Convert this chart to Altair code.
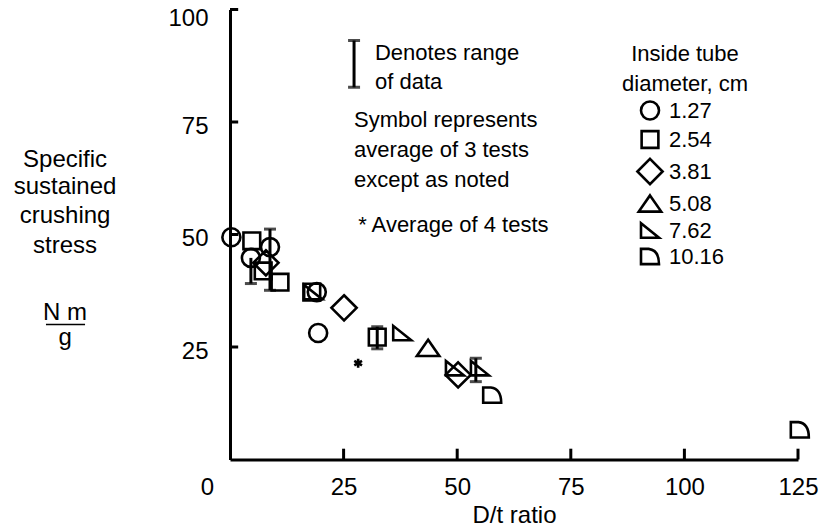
import altair as alt
import pandas as pd

FONT = "Liberation Sans"

# ---- data ----
SERIES = ["1.27", "2.54", "3.81", "5.08", "7.62", "10.16", "*"]

pt_series = ["1.27", "2.54", "1.27", "1.27", "3.81", "2.54", "2.54",
             "2.54", "1.27", "7.62", "3.81", "1.27", "2.54", "7.62",
             "*", "5.08", "7.62", "3.81", "7.62", "10.16", "10.16"]
pt_x = [0.3, 4.8, 8.8, 4.6, 7.9, 7.3, 11.0,
        18.0, 19.1, 18.3, 25.1, 19.4, 32.4, 37.9,
        28.2, 43.6, 49.5, 50.2, 55.0, 57.7, 125.4]
pt_y = [49.4, 48.6, 47.2, 44.8, 43.7, 41.9, 39.4,
        37.2, 37.2, 37.2, 33.7, 28.1, 27.2, 28.1,
        21.4, 24.8, 20.3, 18.8, 20.3, 14.3, 6.6]

# range bars (x, low, high); the last one is the key symbol "Denotes range"
eb_x = [4.6, 8.8, 32.4, 54.1, 27.3]
eb_lo = [39.1, 37.6, 24.6, 17.3, 82.7]
eb_hi = [44.8, 51.2, 29.5, 22.5, 93.1]
cap_x = [4.6, 8.8, 8.8, 32.4, 32.4, 54.1, 54.1, 27.3, 27.3]
cap_y = [39.1, 37.6, 51.2, 24.6, 29.5, 17.3, 22.5, 82.7, 93.1]

x_ticks = [0, 25, 50, 75, 100, 125]
y_ticks = [25, 50, 75, 100]

# annotation texts (placed in data units)
note_text = ["Denotes range", "of data", "Symbol represents",
             "average of 3 tests", "except as noted", "* Average of 4 tests"]
note_x = [31.9, 31.9, 27.3, 27.3, 27.3, 28.2]
note_y = [90.3, 83.9, 75.4, 68.8, 62.1, 52.1]

ytitle_text = ["Specific", "sustained", "crushing", "stress", "N m", "g"]
ytitle_y = [66.6, 60.5, 54.2, 47.5, 32.6, 27.0]

# ---- tables ----
pts = pd.DataFrame({"x": pt_x, "y": pt_y, "series": pt_series})
bars = pd.DataFrame({"x": eb_x, "lo": eb_lo, "hi": eb_hi})
caps = pd.DataFrame({"x": cap_x, "y": cap_y})
notes = pd.DataFrame({"t": note_text, "x": note_x, "y": note_y})
ytitle = pd.DataFrame({"t": ytitle_text, "y": ytitle_y})
xt = pd.DataFrame({"v": x_ticks[1:]})
yt = pd.DataFrame({"v": y_ticks})

shape_range = [
    "circle",
    "M-0.93,-0.93L0.93,-0.93L0.93,0.93L-0.93,0.93Z",
    "M0,-1.4L1.4,0L0,1.4L-1.4,0Z",
    "M0,-0.9L1.25,0.9L-1.25,0.9Z",
    "M-1,-0.8L-1,0.8L1,0.8Z",
    "M-1,-0.85L-0.15,-0.85Q1,-0.7 1,0.85L-1,0.85Z",
    "M0,-0.5L0,0.5M-0.43,-0.25L0.43,0.25M-0.43,0.25L0.43,-0.25",
]

xscale = alt.Scale(domain=[0, 125], nice=False, zero=False)
yscale = alt.Scale(domain=[0, 100], nice=False, zero=False)

xaxis = alt.Axis(values=x_ticks, ticks=False, tickSize=0, grid=False,
                 domainColor="black", domainWidth=3, labelFontSize=24,
                 labelColor="black", labelPadding=16, labelFlush=False,
                 labelOverlap=False,
                 labelOffset={"condition": {"test": "datum.value === 0", "value": -23}, "value": 0},
                 title="D/t ratio", titleFontSize=24, titleFontWeight="normal",
                 titleColor="black", titlePadding=4)
yaxis = alt.Axis(values=y_ticks, ticks=False, tickSize=0, grid=False,
                 domainColor="black", domainWidth=3, labelFontSize=24,
                 labelColor="black", labelPadding=22, labelOverlap=False,
                 labelFlush=False,
                 labelOffset={"condition": {"test": "datum.value === 100", "value": 9}, "value": 4},
                 title=None)

X = alt.X("x:Q", scale=xscale, axis=xaxis)
Y = alt.Y("y:Q", scale=yscale, axis=yaxis)

points = alt.Chart(pts).mark_point(filled=False, color="black", strokeWidth=2.6,
                                   size=324, opacity=1).encode(
    x=X, y=Y,
    shape=alt.Shape("series:N", scale=alt.Scale(domain=SERIES, range=shape_range),
                    legend=alt.Legend(values=SERIES[:6], orient="none",
                                      legendX=392, legendY=34,
                                      title=["Inside tube", "diameter, cm"],
                                      titleFontSize=22, titleFontWeight="normal",
                                      titleColor="black", titleAlign="center",
                                      titleAnchor="middle", titleLineHeight=30,
                                      titlePadding=4, labelFontSize=22,
                                      labelColor="black", labelOffset=8,
                                      symbolOffset=-6, symbolSize=324,
                                      symbolStrokeColor="black",
                                      symbolFillColor="transparent",
                                      symbolStrokeWidth=2.6, rowPadding=0,
                                      padding=0)),
)

bar_rules = alt.Chart(bars).mark_rule(color="black", strokeWidth=3).encode(
    x=alt.X("x:Q", scale=xscale), y=alt.Y("lo:Q", scale=yscale), y2="hi:Q")

bar_caps = alt.Chart(caps).mark_tick(color="black", orient="horizontal",
                                     size=12, thickness=3).encode(
    x=alt.X("x:Q", scale=xscale), y=alt.Y("y:Q", scale=yscale))

xtick_rules = alt.Chart(xt).mark_rule(color="black", strokeWidth=3).encode(
    x=alt.X("v:Q", scale=xscale), y=alt.datum(0), y2=alt.datum(2.4))
ytick_rules = alt.Chart(yt).mark_rule(color="black", strokeWidth=3).encode(
    y=alt.Y("v:Q", scale=yscale), x=alt.datum(0), x2=alt.datum(1.8))

note_layer = alt.Chart(notes).mark_text(align="left", baseline="middle",
                                        fontSize=22, color="black", font=FONT).encode(
    x=alt.X("x:Q", scale=xscale), y=alt.Y("y:Q", scale=yscale), text="t:N")

ytitle_layer = alt.Chart(ytitle).mark_text(align="center", baseline="middle",
                                           fontSize=24, color="black", font=FONT).encode(
    x=alt.datum(-36.3), y=alt.Y("y:Q", scale=yscale), text="t:N")

underline = alt.Chart(pd.DataFrame({"y": [30.0]})).mark_rule(color="black", strokeWidth=1.5).encode(
    y=alt.Y("y:Q", scale=yscale), x=alt.datum(-40.5), x2=alt.datum(-31.9))

chart = alt.layer(
    xtick_rules, ytick_rules, bar_rules, bar_caps, points,
    note_layer, ytitle_layer, underline,
).properties(
    width=568, height=450,
    padding={"left": 230, "top": 9.5, "right": 21, "bottom": 70.5},
    autosize=alt.AutoSizeParams(type="none"),
).configure(font=FONT, background="white").configure_view(stroke=None)

chart.save("out.html", embed_options={"renderer": "svg", "actions": False})
